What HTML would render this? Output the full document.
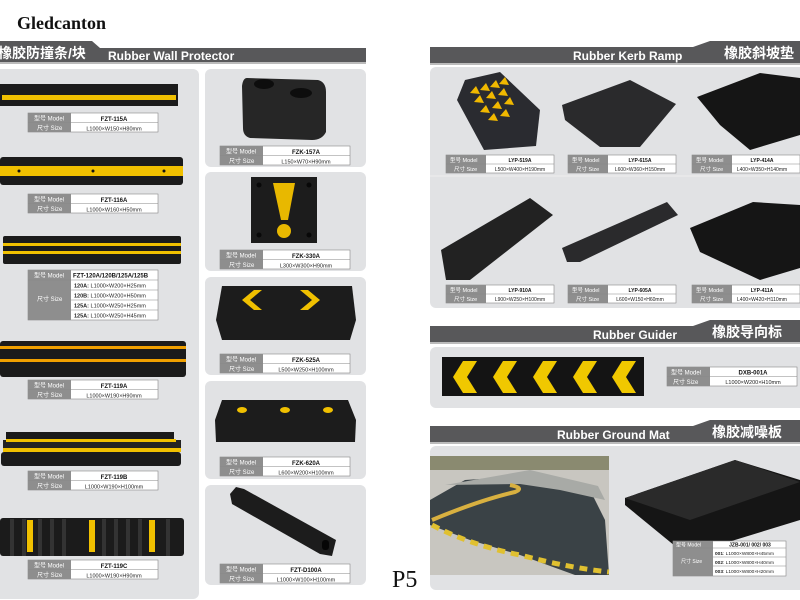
<!DOCTYPE html>
<html><head><meta charset="utf-8"><style>
html,body{margin:0;padding:0;background:#fff;width:800px;height:600px;overflow:hidden}
svg{display:block}
text{font-family:"Liberation Sans","Noto Sans CJK SC",sans-serif}
.lb{fill:#fff;font-size:6px}
.v{fill:#222;font-size:5.5px;text-anchor:middle}
.vb{fill:#111;font-size:6px;font-weight:bold;text-anchor:middle}
.hd{fill:#fff;font-size:12px;font-weight:bold}
.cn{fill:#fff;font-size:14px;font-weight:bold}
</style></head><body>
<svg width="800" height="600" viewBox="0 0 800 600" xmlns="http://www.w3.org/2000/svg">
<defs>
<g id="tb">
<rect x="0" y="0" width="130" height="19" fill="#fff" stroke="#888" stroke-width="0.6"/>
<rect x="0" y="0" width="43" height="19" fill="#8e8e8e"/>
<line x1="0" y1="9.5" x2="130" y2="9.5" stroke="#888" stroke-width="0.6"/>
<text class="lb" x="6" y="7.5">型号 Model</text>
<text class="lb" x="9" y="17">尺寸 Size</text>
</g>
<g id="tbs">
<rect x="0" y="0" width="108" height="18" fill="#fff" stroke="#888" stroke-width="0.6"/>
<rect x="0" y="0" width="40" height="18" fill="#8e8e8e"/>
<line x1="0" y1="9" x2="108" y2="9" stroke="#888" stroke-width="0.6"/>
<text class="lb" x="4" y="7" style="font-size:5.5px">型号 Model</text>
<text class="lb" x="8" y="16" style="font-size:5.5px">尺寸 Size</text>
</g>
</defs>

<!-- logo -->
<text x="17" y="29" style="font-family:'Liberation Serif',serif;font-size:18px;font-weight:bold;fill:#111">Gledcanton</text>

<!-- left header -->
<polygon points="0,41 92,41 100,48 366,48 366,62 0,62" fill="#58585a"/>
<rect x="0" y="62" width="366" height="2" fill="#bbb"/>
<text class="cn" x="-2" y="58">橡胶防撞条/块</text>
<text class="hd" x="108" y="60">Rubber Wall Protector</text>

<!-- left big panel -->
<rect x="-10" y="69" width="209" height="530" rx="6" fill="#e1e2e4"/>
<!-- right column panels -->
<rect x="205" y="69" width="161" height="98" rx="6" fill="#e1e2e4"/>
<rect x="205" y="172" width="161" height="99" rx="6" fill="#e1e2e4"/>
<rect x="205" y="277" width="161" height="98" rx="6" fill="#e1e2e4"/>
<rect x="205" y="381" width="161" height="98" rx="6" fill="#e1e2e4"/>
<rect x="205" y="485" width="161" height="100" rx="6" fill="#e1e2e4"/>

<!-- FZT-115A -->
<rect x="0" y="84" width="178" height="22" fill="#1b1b1b"/>
<rect x="2" y="95" width="174" height="5" fill="#f0c000"/>
<use href="#tb" x="28" y="113"/>
<text class="vb" x="114" y="121">FZT-115A</text>
<text class="v" x="114" y="130.5">L1000×W150×H80mm</text>

<!-- FZT-116A -->
<rect x="0" y="157" width="183" height="28" rx="3" fill="#1b1b1b"/>
<rect x="0" y="166" width="183" height="10" fill="#f0c000"/>
<circle cx="19" cy="171" r="1.5" fill="#111"/><circle cx="93" cy="171" r="1.5" fill="#111"/><circle cx="164" cy="171" r="1.5" fill="#111"/>
<use href="#tb" x="28" y="194"/>
<text class="vb" x="114" y="202">FZT-116A</text>
<text class="v" x="114" y="211.5">L1000×W160×H50mm</text>

<!-- FZT-120A -->
<rect x="3" y="236" width="178" height="28" rx="2" fill="#1b1b1b"/>
<rect x="3" y="243" width="178" height="3" fill="#f0c000"/>
<rect x="3" y="251" width="178" height="3" fill="#f0c000"/>
<rect x="28" y="270" width="130" height="50" fill="#fff" stroke="#888" stroke-width="0.6"/>
<rect x="28" y="270" width="43" height="50" fill="#8e8e8e"/>
<line x1="28" y1="280" x2="158" y2="280" stroke="#888" stroke-width="0.6"/>
<line x1="71" y1="290" x2="158" y2="290" stroke="#888" stroke-width="0.6"/>
<line x1="71" y1="300" x2="158" y2="300" stroke="#888" stroke-width="0.6"/>
<line x1="71" y1="310" x2="158" y2="310" stroke="#888" stroke-width="0.6"/>
<text class="lb" x="34" y="277.5">型号 Model</text>
<text class="lb" x="37" y="301">尺寸 Size</text>
<text x="73" y="277.5" style="font-size:6px;font-weight:bold;fill:#111">FZT-120A/120B/125A/125B</text>
<text x="74" y="287.5" style="font-size:5.5px;fill:#222"><tspan font-weight="bold">120A:</tspan> L1000×W200×H25mm</text>
<text x="74" y="297.5" style="font-size:5.5px;fill:#222"><tspan font-weight="bold">120B:</tspan> L1000×W200×H50mm</text>
<text x="74" y="307.5" style="font-size:5.5px;fill:#222"><tspan font-weight="bold">125A:</tspan> L1000×W250×H25mm</text>
<text x="74" y="317.5" style="font-size:5.5px;fill:#222"><tspan font-weight="bold">125A:</tspan> L1000×W250×H45mm</text>

<!-- FZT-119A -->
<rect x="0" y="341" width="186" height="36" rx="3" fill="#1b1b1b"/>
<rect x="0" y="346" width="186" height="3" fill="#f0a000"/>
<rect x="0" y="359" width="186" height="3" fill="#f0a000"/>
<use href="#tb" x="28" y="380"/>
<text class="vb" x="114" y="388">FZT-119A</text>
<text class="v" x="114" y="397.5">L1000×W190×H90mm</text>

<!-- FZT-119B -->
<rect x="6" y="432" width="168" height="8" fill="#1b1b1b"/>
<rect x="3" y="440" width="178" height="8" fill="#222"/>
<rect x="6" y="439" width="170" height="3" fill="#f0c000"/>
<rect x="3" y="448" width="178" height="4" fill="#f0c000"/>
<rect x="1" y="452" width="180" height="14" rx="3" fill="#1b1b1b"/>
<use href="#tb" x="28" y="471"/>
<text class="vb" x="114" y="479">FZT-119B</text>
<text class="v" x="114" y="488.5">L1000×W190×H100mm</text>

<!-- FZT-119C -->
<rect x="0" y="518" width="184" height="38" rx="3" fill="#1b1b1b"/>
<g fill="#333">
<rect x="10" y="519" width="4" height="37"/><rect x="22" y="519" width="4" height="37"/><rect x="38" y="519" width="4" height="37"/><rect x="50" y="519" width="4" height="37"/><rect x="62" y="519" width="4" height="37"/><rect x="102" y="519" width="4" height="37"/><rect x="114" y="519" width="4" height="37"/><rect x="126" y="519" width="4" height="37"/><rect x="138" y="519" width="4" height="37"/><rect x="166" y="519" width="4" height="37"/>
</g>
<rect x="27" y="520" width="6" height="32" fill="#f0c000"/>
<rect x="89" y="520" width="6" height="32" fill="#f0c000"/>
<rect x="149" y="520" width="6" height="32" fill="#f0c000"/>
<use href="#tb" x="28" y="560"/>
<text class="vb" x="114" y="568">FZT-119C</text>
<text class="v" x="114" y="577.5">L1000×W190×H90mm</text>

<!-- FZK-157A -->
<path d="M247,78 L318,80 Q326,82 326,92 L326,132 Q322,140 312,140 L250,138 Q243,136 243,128 L242,86 Q243,78 247,78Z" fill="#262626"/>
<ellipse cx="264" cy="84" rx="10" ry="5" fill="#0d0d0d"/>
<ellipse cx="301" cy="93" rx="11" ry="5" fill="#0d0d0d"/>
<use href="#tb" x="220" y="146"/>
<text class="vb" x="306" y="154">FZK-157A</text>
<text class="v" x="306" y="163.5">L150×W70×H90mm</text>

<!-- FZK-330A -->
<rect x="251" y="177" width="66" height="66" fill="#1c1c1c"/>
<polygon points="273,183 295,183 288,220 281,220" fill="#e8b800"/>
<circle cx="284" cy="231" r="7" fill="#e8b800"/>
<circle cx="259" cy="185" r="2.5" fill="#080808"/><circle cx="309" cy="185" r="2.5" fill="#080808"/><circle cx="259" cy="235" r="2.5" fill="#080808"/><circle cx="309" cy="235" r="2.5" fill="#080808"/>
<use href="#tb" x="220" y="250"/>
<text class="vb" x="306" y="258">FZK-330A</text>
<text class="v" x="306" y="267.5">L300×W300×H90mm</text>

<!-- FZK-525A -->
<polygon points="222,286 352,286 356,320 350,340 222,340 216,320" fill="#1c1c1c"/>
<polygon points="254,290 242,300 254,310 262,310 250,300 262,290" fill="#f0c000"/>
<polygon points="300,290 312,300 300,310 308,310 320,300 308,290" fill="#f0c000"/>
<use href="#tb" x="220" y="354"/>
<text class="vb" x="306" y="362">FZK-525A</text>
<text class="v" x="306" y="371.5">L500×W250×H100mm</text>

<!-- FZK-620A -->
<polygon points="222,400 348,400 356,420 355,442 216,442 215,420" fill="#1c1c1c"/>
<ellipse cx="242" cy="410" rx="5" ry="3" fill="#f0c000"/>
<ellipse cx="285" cy="410" rx="5" ry="3" fill="#f0c000"/>
<ellipse cx="328" cy="410" rx="5" ry="3" fill="#f0c000"/>
<use href="#tb" x="220" y="457"/>
<text class="vb" x="306" y="465">FZK-620A</text>
<text class="v" x="306" y="474.5">L600×W200×H100mm</text>

<!-- FZT-D100A -->
<polygon points="236,487 244,489 336,540 332,556 320,554 232,504 230,494" fill="#1c1c1c"/>
<rect x="322" y="540" width="7" height="10" rx="3" fill="#060606"/>
<use href="#tb" x="220" y="564"/>
<text class="vb" x="306" y="572">FZT-D100A</text>
<text class="v" x="306" y="581.5">L1000×W100×H100mm</text>

<text x="392" y="587" style="font-family:'Liberation Serif',serif;font-size:24px;fill:#111">P5</text>

<!-- RIGHT PAGE -->
<!-- kerb ramp header -->
<polygon points="430,47 693,47 710,41 800,41 800,63 430,63" fill="#58585a"/>
<rect x="430" y="63" width="370" height="2" fill="#bbb"/>
<text class="hd" x="573" y="60">Rubber Kerb Ramp</text>
<text class="cn" x="724" y="58">橡胶斜坡垫</text>
<rect x="430" y="67" width="380" height="241" rx="6" fill="#e1e2e4"/>
<line x1="430" y1="176" x2="800" y2="176" stroke="#eee" stroke-width="1"/>

<!-- ramps row1 -->
<polygon points="465,80 500,72 540,110 536,146 484,150 457,100" fill="#2a2b30"/>
<g fill="#f0b800">
<polygon points="470,93 476,86 480,94"/><polygon points="480,90 486,83 490,91"/><polygon points="490,87 496,80 500,88"/><polygon points="499,84 505,77 509,85"/>
<polygon points="474,102 480,95 484,103"/><polygon points="486,98 492,91 496,99"/><polygon points="498,95 504,88 508,96"/>
<polygon points="480,112 486,105 490,113"/><polygon points="492,108 498,101 502,109"/><polygon points="504,104 510,97 514,105"/>
<polygon points="488,120 494,113 498,121"/><polygon points="500,116 506,109 510,117"/>
</g>
<polygon points="562,105 630,80 676,104 640,147 600,147 565,120" fill="#2a2a2c"/>
<polygon points="697,97 760,73 800,78 800,135 750,150 720,125" fill="#151515"/>
<use href="#tbs" x="446" y="155"/>
<text class="vb" x="520" y="162" style="font-size:5px">LYP-519A</text>
<text class="v" x="520" y="171" style="font-size:5px">L500×W400×H190mm</text>
<use href="#tbs" x="568" y="155"/>
<text class="vb" x="640" y="162" style="font-size:5px">LYP-615A</text>
<text class="v" x="640" y="171" style="font-size:5px">L600×W360×H150mm</text>
<use href="#tbs" x="692" y="155"/>
<text class="vb" x="762" y="162" style="font-size:5px">LYP-414A</text>
<text class="v" x="762" y="171" style="font-size:5px">L400×W350×H140mm</text>

<!-- ramps row2 -->
<polygon points="441,250 530,198 553,215 470,280 446,280" fill="#222"/>
<polygon points="562,248 667,202 678,215 580,262 567,262" fill="#2a2a2c"/>
<polygon points="690,228 753,202 800,205 800,268 760,280 700,252" fill="#151515"/>
<use href="#tbs" x="446" y="285"/>
<text class="vb" x="520" y="292" style="font-size:5px">LYP-910A</text>
<text class="v" x="520" y="301" style="font-size:5px">L900×W250×H100mm</text>
<use href="#tbs" x="568" y="285"/>
<text class="vb" x="640" y="292" style="font-size:5px">LYP-605A</text>
<text class="v" x="640" y="301" style="font-size:5px">L600×W150×H60mm</text>
<use href="#tbs" x="692" y="285"/>
<text class="vb" x="762" y="292" style="font-size:5px">LYP-411A</text>
<text class="v" x="762" y="301" style="font-size:5px">L400×W420×H110mm</text>

<!-- Guider -->
<polygon points="430,326 693,326 710,320 800,320 800,342 430,342" fill="#58585a"/>
<rect x="430" y="342" width="370" height="2" fill="#bbb"/>
<text class="hd" x="593" y="339">Rubber Guider</text>
<text class="cn" x="712" y="337">橡胶导向标</text>
<rect x="430" y="347" width="380" height="61" rx="6" fill="#e1e2e4"/>
<rect x="442" y="357" width="202" height="39" fill="#141414"/>
<g fill="#f0c800">
<polygon points="463,361 453,377 463,393 477,393 467,377 477,361"/>
<polygon points="503,361 493,377 503,393 517,393 507,377 517,361"/>
<polygon points="543,361 533,377 543,393 557,393 547,377 557,361"/>
<polygon points="583,361 573,377 583,393 597,393 587,377 597,361"/>
<polygon points="622,361 612,377 622,393 636,393 626,377 636,361"/>
</g>
<rect x="667" y="367" width="130" height="19" fill="#fff" stroke="#888" stroke-width="0.6"/>
<rect x="667" y="367" width="43" height="19" fill="#8e8e8e"/>
<line x1="667" y1="376.5" x2="797" y2="376.5" stroke="#888" stroke-width="0.6"/>
<text class="lb" x="671" y="374.5">型号 Model</text>
<text class="lb" x="673" y="384">尺寸 Size</text>
<text class="vb" x="753" y="374.5">DXB-001A</text>
<text class="v" x="753" y="384">L1000×W200×H10mm</text>

<!-- Ground mat -->
<polygon points="430,426 693,426 710,420 800,420 800,442 430,442" fill="#58585a"/>
<rect x="430" y="442" width="370" height="2" fill="#bbb"/>
<text class="hd" x="557" y="439">Rubber Ground Mat</text>
<text class="cn" x="712" y="437">橡胶减噪板</text>
<rect x="430" y="446" width="380" height="144" rx="6" fill="#e1e2e4"/>
<!-- photo -->
<rect x="430" y="456" width="179" height="119" fill="#c8c6c0"/>
<rect x="430" y="456" width="179" height="14" fill="#8a8a70"/>
<polygon points="430,500 465,480 540,475 590,490 605,520 609,575 575,575 520,555 470,540 430,525" fill="#3a4246"/>
<polygon points="445,485 530,470 598,486 605,500 560,490 520,484" fill="#a8aaa6"/>
<path d="M432,520 Q480,500 515,492 Q525,488 510,485" stroke="#d8b040" stroke-width="4" fill="none"/>
<path d="M432,525 Q470,545 520,555 Q570,568 609,572" stroke="#e0c030" stroke-width="5" fill="none" stroke-dasharray="8 6"/>
<!-- mat product -->
<polygon points="625,498 735,460 800,480 800,520 686,555 625,505" fill="#151515"/>
<polygon points="625,498 735,460 800,482 690,520" fill="#2a2a2a"/>
<rect x="673" y="541" width="113" height="35" fill="#fff" stroke="#888" stroke-width="0.6"/>
<rect x="673" y="541" width="40" height="35" fill="#8e8e8e"/>
<line x1="673" y1="548" x2="786" y2="548" stroke="#888" stroke-width="0.6"/>
<line x1="713" y1="557" x2="786" y2="557" stroke="#888" stroke-width="0.6"/>
<line x1="713" y1="566" x2="786" y2="566" stroke="#888" stroke-width="0.6"/>
<text class="lb" x="676" y="546.5" style="font-size:5px">型号 Model</text>
<text class="lb" x="681" y="563" style="font-size:5px">尺寸 Size</text>
<text class="vb" x="750" y="546.5" style="font-size:5px">JZB-001/ 002/ 003</text>
<text x="715" y="555" style="font-size:4.8px;fill:#222"><tspan font-weight="bold">001</tspan>: L1000×W800×H45mm</text>
<text x="715" y="564" style="font-size:4.8px;fill:#222"><tspan font-weight="bold">002</tspan>: L1000×W800×H40mm</text>
<text x="715" y="573" style="font-size:4.8px;fill:#222"><tspan font-weight="bold">003</tspan>: L1000×W800×H20mm</text>
</svg>
</body></html>
